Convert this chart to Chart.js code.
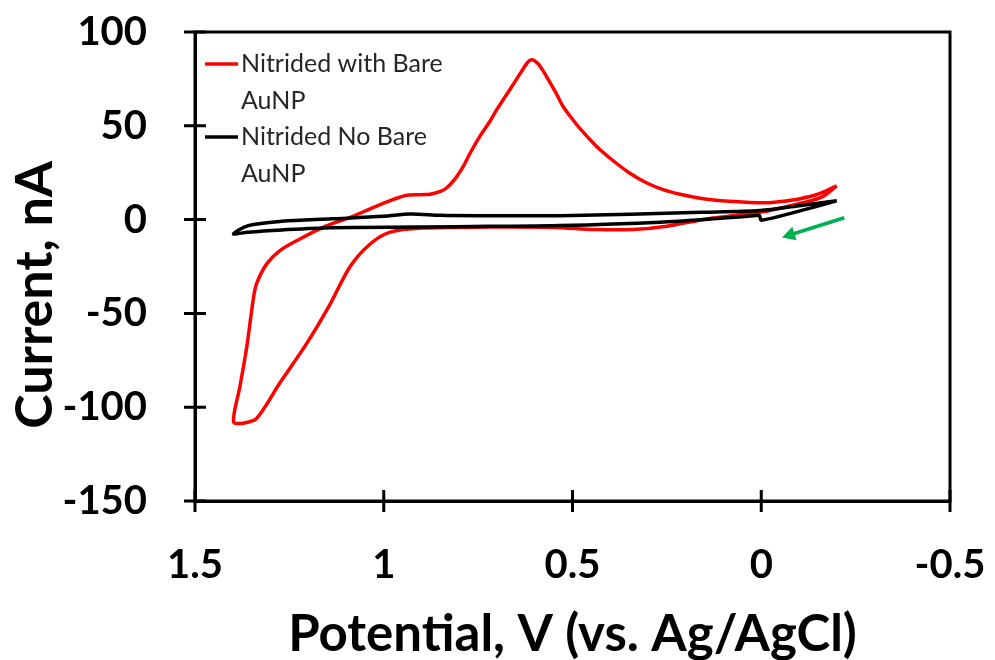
<!DOCTYPE html>
<html>
<head>
<meta charset="utf-8">
<script src="https://cdn.jsdelivr.net/npm/chart.js@4.4.0/dist/chart.umd.min.js"></script>
<style>
    html, body { margin: 0; padding: 0; background: #fff; }
    #wrap { width: 995px; height: 660px; }
</style>
</head>
<body>
<div id="wrap"><canvas id="CvChart" width="995" height="660"></canvas></div>
<script>
// potential in V (vs. Ag/AgCl), current in nA
const red_x = [-0.2, -0.15, -0.1, -0.06, -0.02, 0.03, 0.07, 0.12, 0.17, 0.215, 0.26, 0.303, 0.35, 0.393, 0.436, 0.48, 0.5, 0.524, 0.545, 0.568, 0.585, 0.598, 0.608, 0.618, 0.635, 0.657, 0.68, 0.701, 0.72, 0.745, 0.771, 0.789, 0.81, 0.833, 0.85, 0.877, 0.9, 0.939, 0.983, 1.036, 1.089, 1.161, 1.222, 1.275, 1.31, 1.337, 1.346, 1.363, 1.381, 1.398,
               1.373, 1.337, 1.275, 1.204, 1.142, 1.089, 1.036, 0.983, 0.896, 0.72, 0.55, 0.44, 0.34, 0.25, 0.14, 0.0, -0.1, -0.16, -0.2];
const red_y = [18, 13.5, 11, 9.8, 9, 9.1, 9.6, 10.3, 11.7, 13.5, 16, 19.5, 25, 31.5, 39, 48.5, 53.5, 60, 68, 76, 81.5, 84.3, 85.2, 84, 79, 72, 65, 58.5, 52, 44.5, 35.5, 28.5, 22, 17, 15, 13.5, 13.3, 13, 10.1, 5.7, 1.2, -4.1, -10.3, -16.5, -23.6, -34.2, -43, -68, -89, -107.8,
               -108.5, -106, -87, -66, -45, -25, -13, -6.7, -4.5, -4, -4.2, -5.3, -5.3, -3.5, 0.5, 4, 8.5, 12, 18];

const black_x = [-0.2, -0.1, 0.003, 0.16, 0.533, 0.745, 0.85, 0.93, 1.0, 1.138, 1.27, 1.359, 1.398,
                 1.36, 1.27, 1.14, 0.9, 0.72, 0.533, 0.268, 0.1, 0.02, 0.005, 0.0, -0.1, -0.2];
const black_y = [10, 7.4, 4.8, 3.9, 2.1, 2.1, 2.3, 3, 1.8, 0.4, -0.9, -3.2, -7.6,
                 -6.7, -5.5, -4.3, -4, -3.6, -3.2, -1.4, 0.8, 2, 2.2, -0.3, 4.5, 10];

const x_ticks = [1.5, 1, 0.5, 0, -0.5];
const y_ticks = [100, 50, 0, -50, -100, -150];

const legend_labels = [["Nitrided with Bare", "AuNP"], ["Nitrided No Bare", "AuNP"]];
const series_colors = ["#FF0000", "#000000"];

// green scan-direction arrow (tail, head)
const arrow_from = [-0.22, 1];
const arrow_to = [-0.055, -9.5];

function toPoints(xs, ys) {
    return xs.map((v, i) => ({ x: v, y: ys[i] }));
}

// frame, crossing tick marks, legend, arrow and y title
const excelLook = {
    id: 'excelLook',
    afterDraw(chart) {
        const { ctx, chartArea: a, scales: { x, y } } = chart;
        ctx.save();

        // box round the plot area
        ctx.strokeStyle = "#000";
        ctx.lineWidth = 3;
        ctx.strokeRect(a.left, a.top, a.right - a.left, a.bottom - a.top);

        // cross tick marks
        ctx.beginPath();
        x.ticks.forEach(t => {
            const px = x.getPixelForValue(t.value);
            ctx.moveTo(px, a.bottom - 11);
            ctx.lineTo(px, a.bottom + 11);
        });
        y.ticks.forEach(t => {
            const py = y.getPixelForValue(t.value);
            ctx.moveTo(a.left - 11, py);
            ctx.lineTo(a.left + 11, py);
        });
        ctx.stroke();

        // arrow
        const x0 = x.getPixelForValue(arrow_from[0]), y0 = y.getPixelForValue(arrow_from[1]);
        const x1 = x.getPixelForValue(arrow_to[0]), y1 = y.getPixelForValue(arrow_to[1]);
        const ang = Math.atan2(y1 - y0, x1 - x0);
        ctx.strokeStyle = "#00B050";
        ctx.fillStyle = "#00B050";
        ctx.lineWidth = 3.5;
        ctx.beginPath();
        ctx.moveTo(x0, y0);
        ctx.lineTo(x1 - 8 * Math.cos(ang), y1 - 8 * Math.sin(ang));
        ctx.stroke();
        ctx.beginPath();
        ctx.moveTo(x1, y1);
        ctx.lineTo(x1 - 13 * Math.cos(ang) + 7 * Math.sin(ang), y1 - 13 * Math.sin(ang) - 7 * Math.cos(ang));
        ctx.lineTo(x1 - 13 * Math.cos(ang) - 7 * Math.sin(ang), y1 - 13 * Math.sin(ang) + 7 * Math.cos(ang));
        ctx.closePath();
        ctx.fill();

        // legend (two-line labels)
        ctx.font = "25px Lato";
        ctx.textBaseline = "middle";
        ctx.textAlign = "left";
        legend_labels.forEach((lines, i) => {
            const top = a.top + 32 + i * 73;
            ctx.strokeStyle = series_colors[i];
            ctx.lineWidth = 3.5;
            ctx.beginPath();
            ctx.moveTo(a.left + 10, top);
            ctx.lineTo(a.left + 43, top);
            ctx.stroke();
            ctx.fillStyle = "#262626";
            lines.forEach((s, j) => ctx.fillText(s, a.left + 46, top + j * 37));
        });

        // y axis title
        ctx.translate(35, 295);
        ctx.rotate(-Math.PI / 2);
        ctx.fillStyle = "#000";
        ctx.font = "bold 52px Lato";
        ctx.textAlign = "center";
        ctx.fillText("Current, nA", 0, 0);

        ctx.restore();
    }
};

const ctx = document.getElementById("CvChart").getContext("2d");

new Chart(ctx, {
    type: "scatter",
    data: {
        datasets: [
            {
                label: legend_labels[0].join(" "),
                data: toPoints(red_x, red_y),
                showLine: true,
                borderColor: series_colors[0],
                borderWidth: 3.5,
                pointRadius: 0,
                tension: 0.3,
                order: 1
            },
            {
                label: legend_labels[1].join(" "),
                data: toPoints(black_x, black_y),
                showLine: true,
                borderColor: series_colors[1],
                borderWidth: 3.5,
                pointRadius: 0,
                tension: 0.3,
                order: 0
            }
        ]
    },
    options: {
        responsive: false,
        animation: false,
        devicePixelRatio: 1,
        layout: {
            padding: { top: 32, right: 45, left: 0, bottom: 0 }
        },
        plugins: {
            legend: { display: false },
            tooltip: { enabled: false }
        },
        scales: {
            x: {
                type: "linear",
                reverse: true,
                min: -0.5,
                max: 1.5,
                afterBuildTicks: scale => { scale.ticks = x_ticks.map(v => ({ value: v })); },
                afterFit: scale => {
                    scale.height = 159;
                    scale.paddingLeft = 0;
                    scale.paddingRight = 0;
                },
                ticks: {
                    color: "#000",
                    padding: 40,
                    font: { family: "Lato", weight: "bold", size: 40 },
                    callback: v => String(v)
                },
                grid: { display: false, drawTicks: false },
                border: { display: true, color: "#000", width: 3 },
                title: {
                    display: true,
                    text: "Potential, V (vs. Ag/AgCl)",
                    color: "#000",
                    font: { family: "Lato", weight: "bold", size: 51 },
                    padding: { top: 0, bottom: -5 }
                }
            },
            y: {
                type: "linear",
                min: -150,
                max: 100,
                afterBuildTicks: scale => { scale.ticks = y_ticks.map(v => ({ value: v })); },
                afterFit: scale => {
                    scale.width = 195;
                    scale.paddingTop = 0;
                    scale.paddingBottom = 0;
                },
                ticks: {
                    color: "#000",
                    padding: 48,
                    font: { family: "Lato", weight: "bold", size: 40 },
                    callback: v => String(v)
                },
                grid: { display: false, drawTicks: false },
                border: { display: true, color: "#000", width: 3 }
            }
        }
    },
    plugins: [excelLook]
});
</script>
</body>
</html>
